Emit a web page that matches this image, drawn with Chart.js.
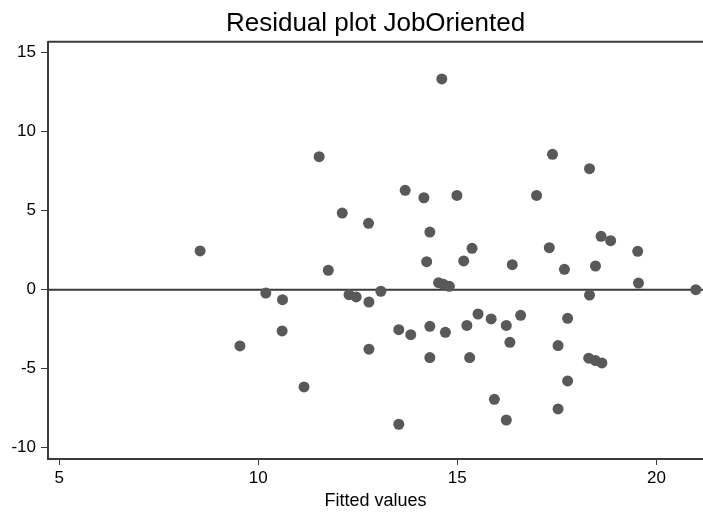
<!DOCTYPE html>
<html>
<head>
<meta charset="utf-8">
<script src="https://cdn.jsdelivr.net/npm/chart.js@4.4.1/dist/chart.umd.min.js"></script>
<style>
  html, body { margin:0; padding:0; background:#fff; }
  #wrap { width:703px; height:516px; }
</style>
</head>
<body>
<div id="wrap"><canvas id="residChart" width="703" height="516"></canvas></div>
<script>
// Valeurs ajustées (x) et résidus (y)
const fitted = [8.54, 9.54, 10.19, 10.61, 10.60, 11.15, 11.53, 11.76, 12.11, 12.28,
                12.46, 12.78, 13.08, 12.78, 13.53, 13.83, 13.53, 14.31, 14.31, 14.23,
                15.16, 14.53, 14.65, 14.80, 14.70, 15.24, 15.31, 15.52, 15.85, 16.23,
                16.32, 15.93, 16.23, 16.59, 16.38, 17.69, 18.47, 17.77, 17.53, 17.77,
                17.53, 18.32, 18.30, 18.47, 18.63, 19.55, 20.99, 14.61, 17.39, 18.32,
                13.69, 14.16, 14.99, 16.99, 12.77, 14.31, 15.37, 17.31, 18.61, 18.85,
                19.53];
const residuals = [2.45, -3.56, -0.21, -0.63, -2.61, -6.16, 8.42, 1.23, 4.85, -0.32,
                   -0.46, -0.78, -0.10, -3.77, -2.53, -2.85, -8.52, -2.32, -4.30, 1.77,
                   1.82, 0.44, 0.34, 0.21, -2.70, -2.26, -4.30, -1.54, -1.85, -2.26,
                   -3.33, -6.94, -8.25, -1.62, 1.58, 1.29, 1.50, -1.81, -3.54, -5.78,
                   -7.55, -0.34, -4.34, -4.49, -4.64, 0.42, 0.00, 13.34, 8.57, 7.66,
                   6.29, 5.82, 5.97, 5.97, 4.20, 3.65, 2.62, 2.66, 3.38, 3.10,
                   2.43];

// Graduations
const xTicks = [5, 10, 15, 20];
const yTicks = [-10, -5, 0, 5, 10, 15];
const xRange = [4.72, 21.17];
const yRange = [-10.72, 15.7];

const axisColor = '#3a3a3a';
const dotColor = '#595959';
const fontFam = 'Liberation Sans, Arial, sans-serif';

const points = fitted.map((x, i) => ({x: x, y: residuals[i]}));

// ligne y = 0 + cadre du haut
const refLines = {
  id: 'refLines',
  beforeDatasetsDraw(chart) {
    const {ctx, chartArea, scales} = chart;
    const y0 = scales.y.getPixelForValue(0);
    ctx.save();
    ctx.strokeStyle = axisColor;
    ctx.lineWidth = 2;
    ctx.beginPath();
    ctx.moveTo(chartArea.left, y0);
    ctx.lineTo(chartArea.right, y0);
    ctx.moveTo(chartArea.left, chartArea.top);
    ctx.lineTo(chartArea.right, chartArea.top);
    ctx.stroke();
    ctx.restore();
  }
};

const ctx = document.getElementById('residChart').getContext('2d');
new Chart(ctx, {
  type: 'scatter',
  data: {
    datasets: [{
      data: points,
      backgroundColor: dotColor,
      borderColor: dotColor,
      borderWidth: 0,
      pointRadius: 5.5,
      pointHoverRadius: 5.5
    }]
  },
  options: {
    responsive: false,
    animation: false,
    layout: { padding: 0, autoPadding: false },
    plugins: {
      legend: { display: false },
      tooltip: { enabled: false },
      title: {
        display: true,
        fullSize: false,
        text: 'Residual plot JobOriented',
        color: '#000',
        font: { family: fontFam, size: 26, weight: 'normal' },
        padding: { top: 8, bottom: 2.5 }
      }
    },
    scales: {
      x: {
        type: 'linear',
        min: xRange[0], max: xRange[1],
        afterBuildTicks: s => { s.ticks = xTicks.map(v => ({value: v})); },
        afterFit: s => { s.height = 57; s.paddingRight = 0; s.paddingLeft = 0; },
        border: { color: axisColor, width: 2 },
        grid: { drawOnChartArea: false, drawTicks: true, tickLength: 6, color: axisColor, lineWidth: 1 },
        ticks: { color: '#000', padding: 3, font: { family: fontFam, size: 17 } },
        title: {
          display: true, text: 'Fitted values', color: '#000',
          font: { family: fontFam, size: 18 },
          padding: { top: 2, bottom: 4 }
        }
      },
      y: {
        type: 'linear',
        min: yRange[0], max: yRange[1],
        afterBuildTicks: s => { s.ticks = yTicks.map(v => ({value: v})); },
        afterFit: s => { s.width = 48; s.paddingTop = 0; s.paddingBottom = 0; },
        border: { color: axisColor, width: 2 },
        grid: { drawOnChartArea: false, drawTicks: true, tickLength: 7, color: axisColor, lineWidth: 1 },
        ticks: { color: '#000', padding: 5, font: { family: fontFam, size: 17 } }
      }
    }
  },
  plugins: [refLines]
});
</script>
</body>
</html>
